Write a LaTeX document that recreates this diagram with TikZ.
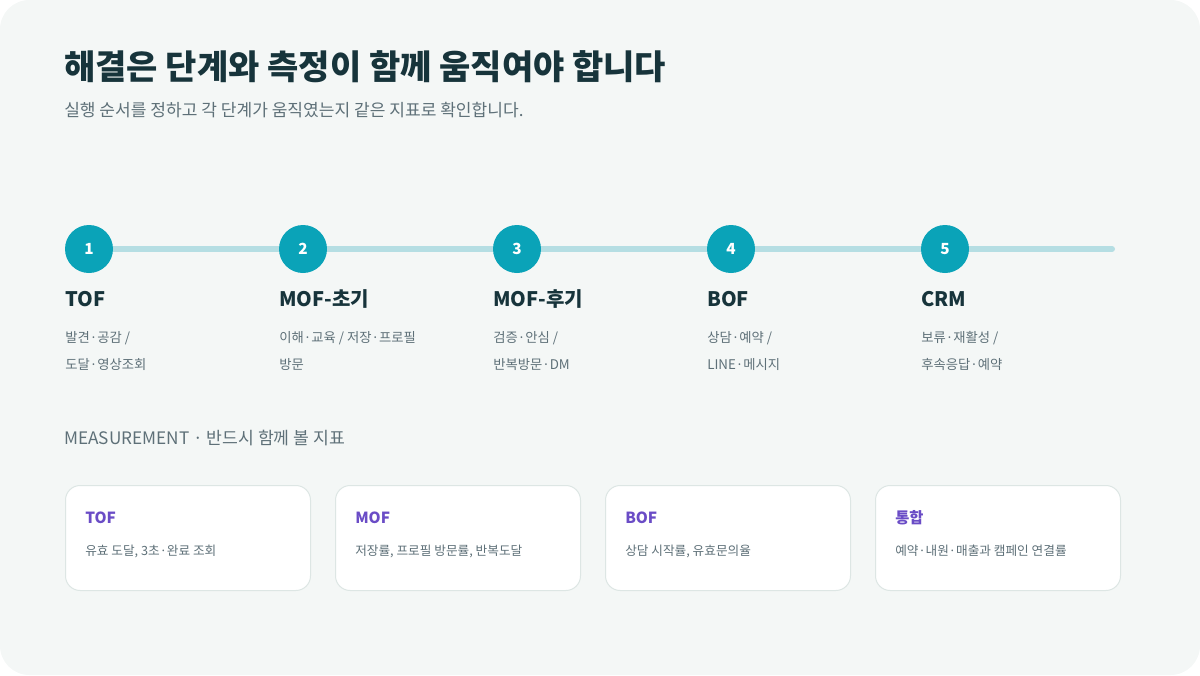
\documentclass[tikz,border=0pt]{standalone}
\usepackage{fontspec}
\setmainfont{Noto Sans CJK KR}
\usetikzlibrary{positioning}
\definecolor{bgpage}{HTML}{F4F7F6}
\definecolor{ink}{HTML}{17343B}
\definecolor{muted}{HTML}{5E7078}
\definecolor{teal}{HTML}{0AA3B8}
\definecolor{track}{HTML}{B5DEE3}
\definecolor{edge}{HTML}{DDE6E4}
\definecolor{violet}{HTML}{6A4CC6}
\tikzset{
  stepdot/.style={circle, fill=teal, minimum size=36pt, inner sep=0pt, text=white, font=\fontsize{11.5}{12}\selectfont\bfseries},
  stage/.style={anchor=base west, inner sep=0pt, text=ink, font=\fontsize{15}{16}\selectfont\bfseries},
  desc/.style={anchor=base west, inner sep=0pt, text=muted, font=\fontsize{10}{20.25}\selectfont, align=left},
  card/.style={draw=edge, line width=0.75pt, fill=white, rounded corners=11pt, minimum width=183.75pt, minimum height=78.75pt, anchor=north west},
  cardhead/.style={anchor=base west, inner sep=0pt, text=violet, font=\fontsize{11.5}{12}\selectfont\bfseries},
  cardbody/.style={anchor=base west, inner sep=0pt, text=muted, font=\fontsize{9.5}{10}\selectfont}
}
\begin{document}
\begin{tikzpicture}[x=0.75pt, y=-0.75pt]
  \useasboundingbox (0,0) rectangle (1200,675);
  \fill[bgpage, rounded corners=22pt] (0,0) rectangle (1200,675);

  \node[anchor=base west, inner sep=0pt, text=ink, font=\fontsize{25.5}{26}\selectfont\bfseries] (title) at (64,79) {해결은 단계와 측정이 함께 움직여야 합니다};
  \node[anchor=base west, inner sep=0pt, text=muted, font=\fontsize{12.8}{14}\selectfont] (subtitle) at (64,116) {실행 순서를 정하고 각 단계가 움직였는지 같은 지표로 확인합니다.};

  % timeline
  \coordinate (trackend) at (1112,249);
  \foreach \i/\x in {1/89, 2/303, 3/517, 4/731, 5/945}
    \coordinate (p\i) at (\x,249);
  \draw[track, line width=4.5pt, line cap=round] (p1) -- (trackend);
  \foreach \i in {1,...,5}
    \node[stepdot] (s\i) at (p\i) {\i};

  \foreach \i/\name/\lineA/\lineB in {
      1/TOF/{발견·공감 /}/{도달·영상조회},
      2/MOF-초기/{이해·교육 / 저장·프로필}/{방문},
      3/MOF-후기/{검증·안심 /}/{반복방문·DM},
      4/BOF/{상담·예약 /}/{LINE·메시지},
      5/CRM/{보류·재활성 /}/{후속응답·예약}} {
    \node[stage] (t\i) at ([xshift=-18pt, yshift=-42.75pt]p\i) {\name};
    \node[desc] (d\i) at ([yshift=-47.5pt]t\i.base west) {\lineA\\\lineB};
  }

  \node[anchor=base west, inner sep=0pt, text=muted, font=\fontsize{12.9}{14}\selectfont] (measure) at (64,444) {MEASUREMENT · 반드시 함께 볼 지표};

  % metric cards
  \foreach \i/\x/\head/\body in {
      1/65/TOF/{유효 도달, 3초·완료 조회},
      2/335/MOF/{저장률, 프로필 방문률, 반복도달},
      3/605/BOF/{상담 시작률, 유효문의율},
      4/875/통합/{예약·내원·매출과 캠페인 연결률}} {
    \node[card] (c\i) at (\x,485) {};
    \node[cardhead] (ch\i) at ([xshift=15pt, yshift=-29pt]c\i.north west) {\head};
    \node[cardbody] (cb\i) at ([yshift=-24pt]ch\i.base west) {\body};
  }
\end{tikzpicture}
\end{document}
